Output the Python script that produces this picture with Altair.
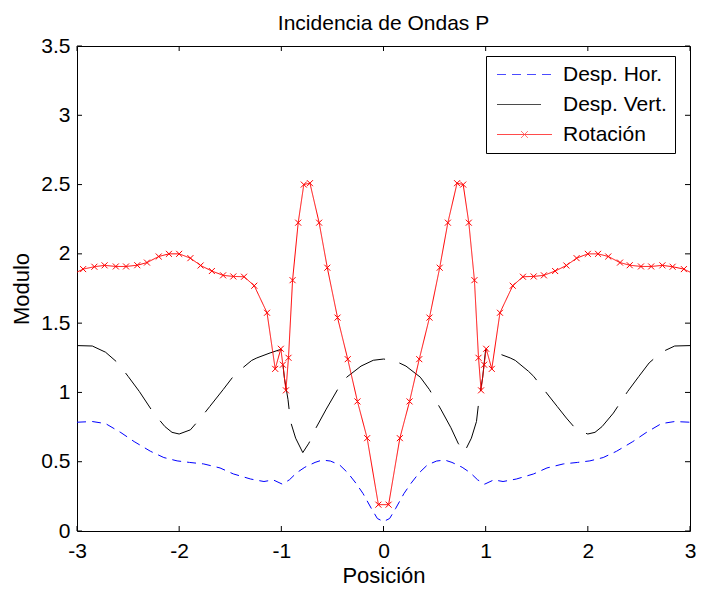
import altair as alt
import pandas as pd

series_names = ["Desp. Hor.", "Desp. Vert.", "Rotación"]
series_colors = ["#0000ff", "#000000", "#ff0000"]
series_dashes = [[9, 6], [44, 15], [1, 0]]
legend_paths = ["M-5,0H5", "M-5,0H5", "M-5,0H5M-0.6,-0.6L0.6,0.6M-0.6,0.6L0.6,-0.6"]

tick_x = [-3, -2, -1, 0, 1, 2, 3]
tick_y = [0, 0.5, 1, 1.5, 2, 2.5, 3, 3.5]

hor_x = [-3.0, -2.85, -2.72, -2.57, -2.44, -2.28, -2.15, -2.02, -1.9, -1.76, -1.6, -1.47, -1.3, -1.17,
         -1.08, -0.99, -0.92, -0.85, -0.77, -0.67, -0.6, -0.52, -0.43, -0.35, -0.27, -0.2, -0.12, -0.06,
         0.0,
         0.06, 0.12, 0.2, 0.27, 0.35, 0.43, 0.52, 0.6, 0.67, 0.77, 0.85, 0.92, 0.99, 1.08,
         1.17, 1.3, 1.47, 1.6, 1.76, 1.9, 2.02, 2.15, 2.28, 2.44, 2.57, 2.72, 2.85, 3.0]
hor_y = [0.785, 0.79, 0.775, 0.71, 0.645, 0.575, 0.53, 0.506, 0.495, 0.484, 0.455, 0.412, 0.375, 0.357,
         0.369, 0.338, 0.37, 0.42, 0.46, 0.495, 0.512, 0.505, 0.477, 0.42, 0.345, 0.27, 0.164, 0.09,
         0.068,
         0.09, 0.164, 0.27, 0.345, 0.42, 0.477, 0.505, 0.512, 0.495, 0.46, 0.42, 0.37, 0.338, 0.369,
         0.357, 0.375, 0.412, 0.455, 0.484, 0.495, 0.506, 0.53, 0.575, 0.645, 0.71, 0.775, 0.79, 0.785]

vert_x = [-3.0, -2.85, -2.72, -2.6, -2.5, -2.39, -2.25, -2.14, -2.07, -2.0, -1.89, -1.79, -1.7, -1.57,
          -1.47, -1.42, -1.29, -1.24, -1.11, -1.0, -0.97, -0.935, -0.91, -0.86, -0.79, -0.73, -0.66,
          -0.56, -0.45, -0.36, -0.22, -0.1,
          0.0,
          0.1, 0.22, 0.36, 0.45, 0.56, 0.66, 0.73, 0.79, 0.86, 0.91, 0.935, 0.97, 1.0, 1.11, 1.24, 1.29,
          1.42, 1.47, 1.57, 1.7, 1.79, 1.89, 2.0, 2.07, 2.14, 2.25, 2.39, 2.5, 2.6, 2.72, 2.85, 3.0]
vert_y = [1.338, 1.335, 1.29, 1.213, 1.116, 1.007, 0.851, 0.754, 0.712, 0.70, 0.73, 0.815, 0.899, 1.02,
          1.116, 1.152, 1.231, 1.249, 1.285, 1.312, 1.104, 0.95, 0.79, 0.67, 0.566, 0.634, 0.745,
          0.88, 1.02, 1.11, 1.19, 1.232,
          1.241,
          1.232, 1.19, 1.11, 1.02, 0.88, 0.745, 0.634, 0.566, 0.67, 0.79, 0.95, 1.104, 1.312, 1.285, 1.249, 1.231,
          1.152, 1.116, 1.02, 0.899, 0.815, 0.73, 0.70, 0.712, 0.754, 0.851, 1.007, 1.116, 1.213, 1.29, 1.335, 1.338]

rot_x = [-3.05, -2.94, -2.83, -2.73, -2.62, -2.52, -2.41, -2.315, -2.2, -2.1, -2.0, -1.89, -1.79, -1.68,
         -1.57, -1.47, -1.365, -1.265, -1.14, -1.06, -1.005, -0.985, -0.955, -0.93, -0.89, -0.835, -0.78,
         -0.72, -0.63, -0.55, -0.45, -0.35, -0.255, -0.16, -0.05,
         0.05, 0.16, 0.255, 0.35, 0.45, 0.55, 0.63, 0.72, 0.78, 0.835, 0.89, 0.93, 0.955, 0.985, 1.005,
         1.06, 1.14, 1.265, 1.365, 1.47, 1.57, 1.68, 1.79, 1.89, 2.0, 2.1, 2.2, 2.315, 2.41, 2.52, 2.62,
         2.73, 2.83, 2.94, 3.05]
rot_y = [1.85, 1.89, 1.907, 1.917, 1.909, 1.909, 1.918, 1.937, 1.981, 2.0, 2.0, 1.969, 1.916, 1.876,
         1.845, 1.837, 1.835, 1.77, 1.575, 1.17, 1.315, 1.20, 1.015, 1.25, 1.81, 2.225, 2.50,
         2.51, 2.225, 1.90, 1.54, 1.24, 0.935, 0.67, 0.19,
         0.19, 0.67, 0.935, 1.24, 1.54, 1.90, 2.225, 2.51, 2.50, 2.225, 1.81, 1.25, 1.015, 1.20, 1.315,
         1.17, 1.575, 1.77, 1.835, 1.837, 1.845, 1.876, 1.916, 1.969, 2.0, 2.0, 1.981, 1.937, 1.918, 1.909, 1.909,
         1.917, 1.907, 1.89, 1.85]

df = pd.concat([
    pd.DataFrame({"x": hor_x, "y": hor_y, "serie": series_names[0]}),
    pd.DataFrame({"x": vert_x, "y": vert_y, "serie": series_names[1]}),
    pd.DataFrame({"x": rot_x, "y": rot_y, "serie": series_names[2]}),
], ignore_index=True)
df_rot = df[df["serie"] == series_names[2]]

FONT = "Liberation Sans"
W, H = 613, 485

x_enc = alt.X("x:Q", scale=alt.Scale(domain=[-3, 3], nice=False, zero=False),
              axis=alt.Axis(values=tick_x, title="Posición", labelExpr="'' + datum.value",
                            labelFlush=False, labelOverlap=False, labelPadding=9, titlePadding=4))
y_enc = alt.Y("y:Q", scale=alt.Scale(domain=[0, 3.5], nice=False, zero=False),
              axis=alt.Axis(values=tick_y, title="Modulo", labelExpr="'' + datum.value",
                            labelFlush=False, labelOverlap=False, labelPadding=7, titlePadding=7))

leg = alt.Legend(title=None, orient="none", legendX=409, legendY=10, padding=8,
                 symbolSize=121, symbolOffset=20, labelOffset=28, rowPadding=8,
                 labelFontSize=21, labelFont=FONT, labelColor="black",
                 strokeColor="black", fillColor="white", cornerRadius=0,
                 symbolStrokeWidth=1, labelLimit=300)

color_enc = alt.Color("serie:N", scale=alt.Scale(domain=series_names, range=series_colors), legend=leg)
dash_enc = alt.StrokeDash("serie:N", scale=alt.Scale(domain=series_names, range=series_dashes), legend=leg)
shape_enc = alt.Shape("serie:N", scale=alt.Scale(domain=series_names, range=legend_paths), legend=leg)

lines = alt.Chart(df).mark_line(strokeWidth=1, clip=True).encode(
    x=x_enc, y=y_enc, color=color_enc, strokeDash=dash_enc, detail="serie:N")

legend_dummy = alt.Chart(df).transform_filter("datum.x > 100").mark_point(
    filled=False, strokeWidth=1).encode(x=x_enc, y=y_enc, color=color_enc, shape=shape_enc)

markers = alt.Chart(df_rot).mark_point(
    shape="M-1,-1L1,1M-1,1L1,-1", size=36, filled=False, strokeWidth=1, color="#ff0000",
    opacity=1, clip=True).encode(x=x_enc, y=y_enc)

tx = pd.DataFrame({"x": tick_x})
ty = pd.DataFrame({"y": tick_y})
tb = alt.Chart(tx).mark_rule(color="black", strokeWidth=1).encode(x=x_enc, y=alt.value(H), y2=alt.value(H - 5))
tt = alt.Chart(tx).mark_rule(color="black", strokeWidth=1).encode(x=x_enc, y=alt.value(0), y2=alt.value(5))
tl = alt.Chart(ty).mark_rule(color="black", strokeWidth=1).encode(y=y_enc, x=alt.value(0), x2=alt.value(5))
tr = alt.Chart(ty).mark_rule(color="black", strokeWidth=1).encode(y=y_enc, x=alt.value(W), x2=alt.value(W - 5))

chart = alt.layer(lines, markers, legend_dummy, tb, tt, tl, tr).properties(
    width=W, height=H, background="white",
    title=alt.TitleParams("Incidencia de Ondas P", fontSize=21, font=FONT, fontWeight="normal",
                          color="black", anchor="middle", frame="group", baseline="alphabetic",
                          offset=4, dy=20),
    autosize=alt.AutoSizeParams(type="none"),
    padding={"left": 69, "top": 38, "right": 6, "bottom": 58},
).configure_view(stroke="black", strokeWidth=1).configure_axis(
    domain=False, ticks=False, grid=False, labelFont=FONT, labelFontSize=21, labelColor="black",
    titleFont=FONT, titleFontSize=22, titleFontWeight="normal", titleColor="black"
)

chart.save("out.html", embed_options={"renderer": "svg", "actions": False})
